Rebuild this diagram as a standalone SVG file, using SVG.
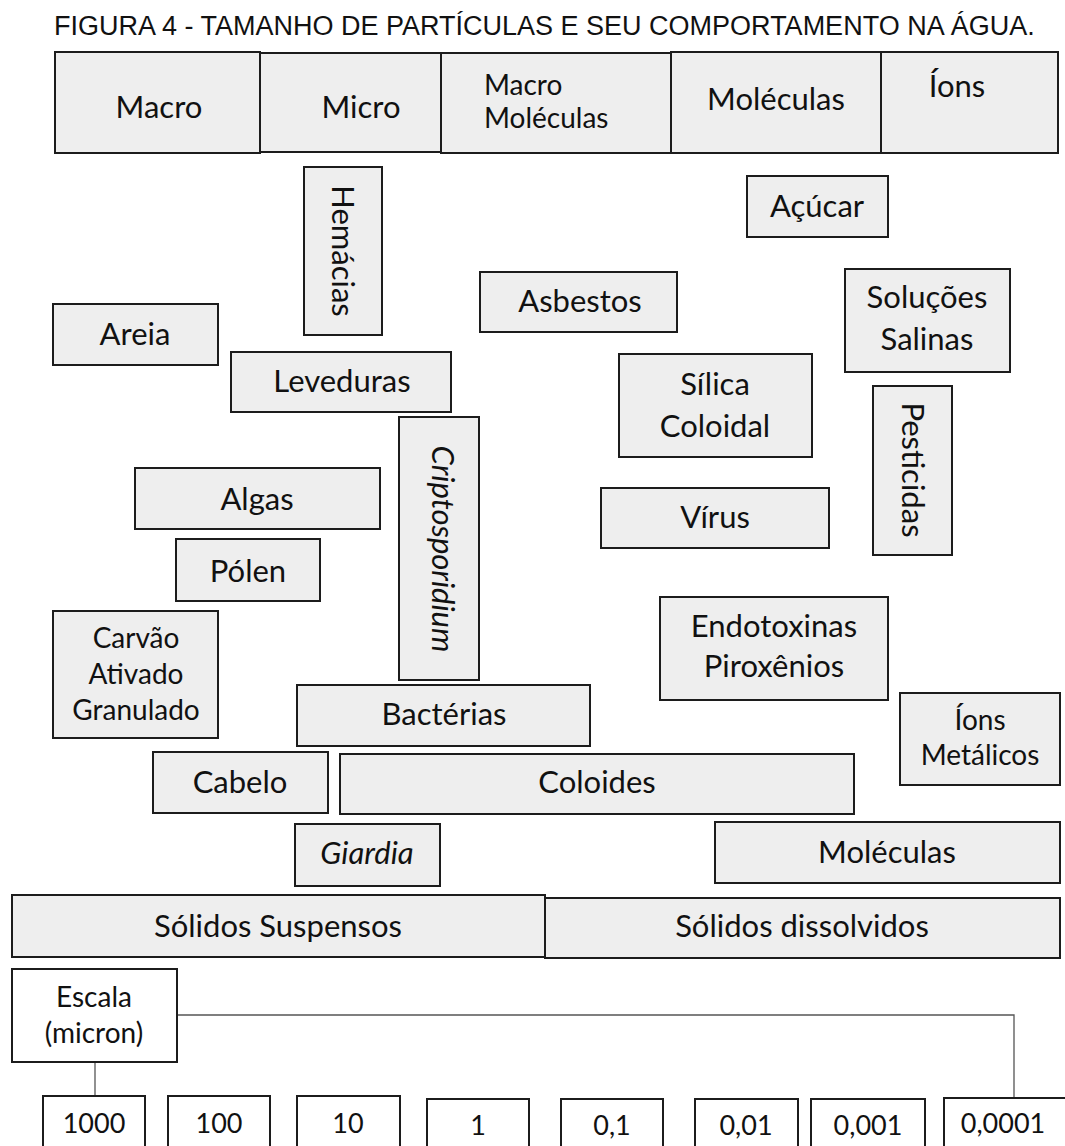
<svg xmlns="http://www.w3.org/2000/svg" width="1065" height="1146" viewBox="0 0 1065 1146">
<style>
.b{fill:#eeeeee;stroke:#1c1c1c;stroke-width:2}
.w{fill:#ffffff;stroke:#1c1c1c;stroke-width:2}
.t{font-family:Lato,"Liberation Sans",sans-serif;font-size:31px;fill:#111;text-anchor:middle}
.s{font-size:28px}
.l{text-anchor:start}
.i{font-style:italic}
.n{font-size:27px}
.c{fill:none;stroke:#555;stroke-width:1.3}
.title{font-family:"Liberation Sans",Arial,sans-serif;font-size:27px;fill:#111}
</style>
<rect width="1065" height="1146" fill="#ffffff"/>
<text class="title" x="54" y="35">FIGURA 4 - TAMANHO DE PARTÍCULAS E SEU COMPORTAMENTO NA ÁGUA.</text>

<g id="connectors">
<polyline class="c" points="177,1015 1014,1015 1014,1098"/>
<line class="c" x1="95" y1="1062" x2="95" y2="1096"/>
</g>

<g id="h-macro"><rect class="b" x="55" y="52" width="205" height="101"/><text class="t" x="159" y="118">Macro</text></g>
<g id="h-micro"><rect class="b" x="260" y="53" width="181" height="99"/><text class="t" x="361" y="118">Micro</text></g>
<g id="h-macromoleculas"><rect class="b" x="441" y="53" width="230" height="100"/><text class="t s l" x="484" y="95">Macro</text><text class="t s l" x="484" y="128">Moléculas</text></g>
<g id="h-moleculas"><rect class="b" x="671" y="52" width="210" height="101"/><text class="t" x="776" y="110">Moléculas</text></g>
<g id="h-ions"><rect class="b" x="881" y="52" width="177" height="101"/><text class="t" x="957" y="97">Íons</text></g>

<g id="hemacias"><rect class="b" x="304" y="167" width="78" height="168"/><text class="t" transform="translate(332,251) rotate(90)">Hemácias</text></g>
<g id="acucar"><rect class="b" x="747" y="176" width="141" height="61"/><text class="t" x="817" y="217">Açúcar</text></g>
<g id="asbestos"><rect class="b" x="480" y="272" width="197" height="60"/><text class="t" x="580" y="312">Asbestos</text></g>
<g id="solucoes"><rect class="b" x="845" y="269" width="165" height="103"/><text class="t" x="927" y="308">Soluções</text><text class="t" x="927" y="350">Salinas</text></g>
<g id="areia"><rect class="b" x="53" y="304" width="165" height="61"/><text class="t" x="135" y="345">Areia</text></g>
<g id="leveduras"><rect class="b" x="231" y="352" width="220" height="60"/><text class="t" x="342" y="392">Leveduras</text></g>
<g id="silica"><rect class="b" x="619" y="354" width="193" height="103"/><text class="t" x="715" y="395">Sílica</text><text class="t" x="715" y="437">Coloidal</text></g>
<g id="pesticidas"><rect class="b" x="873" y="386" width="79" height="169"/><text class="t" transform="translate(902,470) rotate(90)">Pesticidas</text></g>
<g id="criptosporidium"><rect class="b" x="399" y="417" width="80" height="263"/><text class="t i" transform="translate(432,549) rotate(90)">Criptosporidium</text></g>
<g id="algas"><rect class="b" x="135" y="468" width="245" height="61"/><text class="t" x="257" y="510">Algas</text></g>
<g id="virus"><rect class="b" x="601" y="488" width="228" height="60"/><text class="t" x="715" y="528">Vírus</text></g>
<g id="polen"><rect class="b" x="176" y="539" width="144" height="62"/><text class="t" x="248" y="582">Pólen</text></g>
<g id="carvao"><rect class="b" x="53" y="611" width="165" height="127"/><text class="t s" x="136" y="648">Carvão</text><text class="t s" x="136" y="684">Ativado</text><text class="t s" x="136" y="720">Granulado</text></g>
<g id="endotoxinas"><rect class="b" x="660" y="597" width="228" height="103"/><text class="t" x="774" y="637">Endotoxinas</text><text class="t" x="774" y="677">Piroxênios</text></g>
<g id="bacterias"><rect class="b" x="297" y="685" width="293" height="61"/><text class="t" x="444" y="725">Bactérias</text></g>
<g id="ions-metalicos"><rect class="b" x="900" y="693" width="160" height="92"/><text class="t s" x="980" y="730">Íons</text><text class="t s" x="980" y="765">Metálicos</text></g>
<g id="cabelo"><rect class="b" x="153" y="752" width="175" height="61"/><text class="t" x="240" y="793">Cabelo</text></g>
<g id="coloides"><rect class="b" x="340" y="754" width="514" height="60"/><text class="t" x="597" y="793">Coloides</text></g>
<g id="giardia"><rect class="b" x="295" y="824" width="145" height="62"/><text class="t i" x="367" y="864">Giardia</text></g>
<g id="moleculas"><rect class="b" x="715" y="822" width="345" height="61"/><text class="t" x="887" y="863">Moléculas</text></g>
<g id="solidos-suspensos"><rect class="b" x="12" y="895" width="533" height="62"/><text class="t" x="278" y="937">Sólidos Suspensos</text></g>
<g id="solidos-dissolvidos"><rect class="b" x="545" y="898" width="515" height="60"/><text class="t" x="802" y="937">Sólidos dissolvidos</text></g>

<g id="escala"><rect class="w" x="12" y="969" width="165" height="93"/><text class="t s" x="94" y="1007">Escala</text><text class="t s" x="94" y="1043">(micron)</text></g>
<g id="s1000"><rect class="w" x="43" y="1096" width="102" height="70"/><text class="t n" x="94" y="1133">1000</text></g>
<g id="s100"><rect class="w" x="168" y="1096" width="102" height="70"/><text class="t n" x="219" y="1133">100</text></g>
<g id="s10"><rect class="w" x="297" y="1096" width="103" height="70"/><text class="t n" x="348" y="1133">10</text></g>
<g id="s1"><rect class="w" x="427" y="1099" width="102" height="70"/><text class="t n" x="478" y="1135">1</text></g>
<g id="s01"><rect class="w" x="561" y="1099" width="102" height="70"/><text class="t n" x="612" y="1135">0,1</text></g>
<g id="s001"><rect class="w" x="695" y="1099" width="103" height="70"/><text class="t n" x="746" y="1135">0,01</text></g>
<g id="s0001"><rect class="w" x="811" y="1099" width="114" height="70"/><text class="t n" x="868" y="1135">0,001</text></g>
<g id="s00001"><rect class="w" x="944" y="1098" width="130" height="70"/><text class="t n" x="1003" y="1133">0,0001</text></g>
</svg>
